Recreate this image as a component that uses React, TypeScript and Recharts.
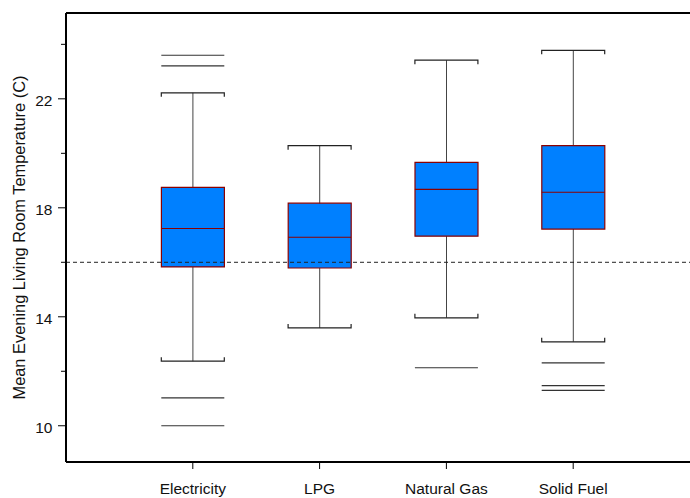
import * as React from 'react';
import { ComposedChart, XAxis, YAxis, Bar, Scatter, ReferenceLine, Label } from 'recharts';

// categories and five-number summaries
const fuels = ['Electricity', 'LPG', 'Natural Gas', 'Solid Fuel'];
const fuelPos = [1, 2, 3, 4];
const lowWhisker = [12.37, 13.59, 13.96, 13.08];
const q1 = [15.83, 15.79, 16.96, 17.22];
const medians = [17.24, 16.92, 18.68, 18.57];
const q3 = [18.75, 18.17, 19.67, 20.28];
const highWhisker = [22.22, 20.28, 23.42, 23.78];

// outliers drawn as plain horizontal lines
const outlierPos = [1, 1, 1, 1, 3, 4, 4, 4];
const outlierTemp = [23.6, 23.21, 11.02, 10.0, 12.13, 12.31, 11.47, 11.3];

const refTemp = 16;
const yTicks = [10, 12, 14, 16, 18, 20, 22, 24];
const yLabelTicks = [10, 14, 18, 22];
const yDomain = [8.67, 25.15];
const xDomain = [0, 5];

const FONT = '"Liberation Sans", Arial, Helvetica, sans-serif';
const BOX_W = 63;
const HALF = BOX_W / 2;

const boxData = fuels.map((f, i) => ({
    x: fuelPos[i],
    name: f,
    box: [q1[i], q3[i]],
    whisker: [lowWhisker[i], highWhisker[i]]
}));
const medianData = fuels.map((f, i) => ({ x: fuelPos[i], y: medians[i] }));
const capData = [
    ...fuels.map((f, i) => ({ x: fuelPos[i], y: highWhisker[i], dir: 1 })),
    ...fuels.map((f, i) => ({ x: fuelPos[i], y: lowWhisker[i], dir: -1 }))
];
const outlierData = outlierPos.map((p, i) => ({ x: p, y: outlierTemp[i] }));

const YTick = (props: any) => {
    const { x, y, payload } = props;
    const major = yLabelTicks.includes(payload.value);
    return (
        <g>
            <line x1={x - (major ? 8 : 5)} x2={x} y1={y} y2={y} stroke="#000" strokeWidth={1} />
            {major && (
                <text x={x - 13.5} y={y + 7.5} textAnchor="end" fontSize={15.5} fontFamily={FONT} fill="#111">
                    {payload.value}
                </text>
            )}
        </g>
    );
};

const XTick = (props: any) => {
    const { x, y, payload } = props;
    const idx = fuelPos.indexOf(payload.value);
    return (
        <g>
            <line x1={x} x2={x} y1={y} y2={y + 7} stroke="#000" strokeWidth={1} />
            <text x={x} y={y + 32} textAnchor="middle" fontSize={15.5} fontFamily={FONT} fill="#111">
                {idx >= 0 ? fuels[idx] : ''}
            </text>
        </g>
    );
};

const MedianShape = (props: any) => {
    const { cx, cy } = props;
    return <line x1={cx - HALF} x2={cx + HALF} y1={cy} y2={cy} stroke="#8B0000" strokeWidth={1.2} />;
};

const CapShape = (props: any) => {
    const { cx, cy, payload } = props;
    const d = payload.dir * 4;
    return (
        <path
            d={`M${cx - HALF},${cy + d}V${cy}H${cx + HALF}V${cy + d}`}
            fill="none"
            stroke="#222"
            strokeWidth={1.2}
        />
    );
};

const OutlierShape = (props: any) => {
    const { cx, cy } = props;
    return <line x1={cx - HALF} x2={cx + HALF} y1={cy} y2={cy} stroke="#333" strokeWidth={1.2} />;
};

const App = () => {
    return (
        <div style={{ position: 'absolute', left: 0, top: 0, width: 690, height: 498, overflow: 'hidden', background: '#fff' }}>
            <ComposedChart width={700} height={498} data={boxData} margin={{ top: 13, right: 0, bottom: 0, left: 0 }}>
                <XAxis
                    dataKey="x"
                    type="number"
                    domain={xDomain}
                    allowDataOverflow
                    ticks={fuelPos}
                    tickSize={0}
                    tickMargin={0}
                    height={36}
                    tick={<XTick />}
                    tickLine={false}
                    axisLine={{ stroke: '#000', strokeWidth: 2 }}
                />
                <XAxis xAxisId="whisk" dataKey="x" type="number" domain={xDomain} allowDataOverflow hide />
                <XAxis xAxisId="box" dataKey="x" type="number" domain={xDomain} allowDataOverflow hide />
                <YAxis
                    type="number"
                    domain={yDomain}
                    allowDataOverflow
                    ticks={yTicks}
                    interval={0}
                    width={66}
                    tickSize={0}
                    tickMargin={0}
                    tick={<YTick />}
                    tickLine={false}
                    axisLine={{ stroke: '#000', strokeWidth: 2 }}
                >
                    <Label
                        value="Mean Evening Living Room Temperature (C)"
                        angle={-90}
                        position="insideLeft"
                        offset={19}
                        textAnchor="middle"
                        style={{ fontSize: 16.4, fontFamily: FONT, fill: '#111' }}
                    />
                </YAxis>
                <ReferenceLine y={yDomain[1]} stroke="#000" strokeWidth={2} />
                <Bar xAxisId="whisk" dataKey="whisker" barSize={1} fill="#444" isAnimationActive={false} />
                <Bar
                    xAxisId="box"
                    dataKey="box"
                    barSize={BOX_W}
                    fill="#0080FF"
                    stroke="#8B0000"
                    strokeWidth={1.2}
                    isAnimationActive={false}
                />
                <Scatter data={capData} dataKey="y" shape={<CapShape />} isAnimationActive={false} />
                <Scatter data={outlierData} dataKey="y" shape={<OutlierShape />} isAnimationActive={false} />
                <Scatter data={medianData} dataKey="y" shape={<MedianShape />} isAnimationActive={false} />
                <ReferenceLine y={refTemp} stroke="#222" strokeDasharray="4 3" strokeWidth={1} />
            </ComposedChart>
        </div>
    );
};

export default App;
